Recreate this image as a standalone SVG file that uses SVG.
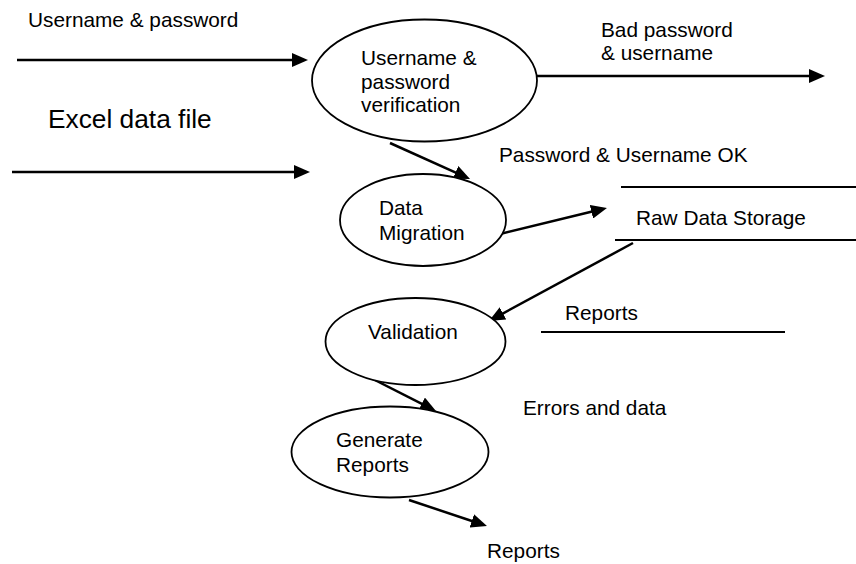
<svg xmlns="http://www.w3.org/2000/svg" width="856" height="564" viewBox="0 0 856 564">
<style>
text{font-family:"Liberation Sans",Arial,sans-serif;font-size:20.8px;fill:#000}
.big{font-size:26.3px}
.node ellipse{fill:#fff;stroke:#000;stroke-width:1.8}
.conn line{stroke:#000;stroke-width:2.5}
.store line{stroke:#000;stroke-width:1.8}
</style>
<defs>
<marker id="ah" viewBox="0 0 16 14" refX="4" refY="7" markerWidth="16" markerHeight="14" orient="auto" markerUnits="userSpaceOnUse">
<path d="M0,0 L16,7 L0,14 z" fill="#000"/>
</marker>
</defs>
<g id="connectors" class="conn">
<line x1="17" y1="60" x2="296" y2="60" marker-end="url(#ah)"/>
<line x1="12" y1="172" x2="298" y2="172" marker-end="url(#ah)"/>
<line x1="537" y1="76" x2="813" y2="76" marker-end="url(#ah)"/>
<line x1="390" y1="143" x2="459.1" y2="174.1" marker-end="url(#ah)"/>
<line x1="500" y1="234" x2="595.3" y2="210.8" marker-end="url(#ah)"/>
<line x1="633" y1="243" x2="499.5" y2="315.3" marker-end="url(#ah)"/>
<line x1="365" y1="375" x2="425.3" y2="405.6" marker-end="url(#ah)"/>
<line x1="409" y1="500" x2="475.6" y2="522.2" marker-end="url(#ah)"/>
</g>
<g id="labels">
<text x="28" y="26.5">Username &amp; password</text>
<text class="big" x="48" y="128">Excel data file</text>
<text x="601" y="36.5">Bad password</text>
<text x="601" y="60">&amp; username</text>
<text x="499" y="161.5">Password &amp; Username OK</text>
<text x="523" y="415">Errors and data</text>
<text x="487" y="558">Reports</text>
</g>
<g id="verify" class="node">
<ellipse cx="424.5" cy="80.5" rx="112.5" ry="61"/>
<text x="361" y="65">Username &amp;</text>
<text x="361" y="88.5">password</text>
<text x="361" y="112">verification</text>
</g>
<g id="migration" class="node">
<ellipse cx="423" cy="220" rx="83" ry="46"/>
<text x="379" y="215">Data</text>
<text x="379" y="240">Migration</text>
</g>
<g id="rawstore" class="store">
<line x1="621" y1="187" x2="856" y2="187"/>
<line x1="615" y1="240" x2="856" y2="240"/>
<text x="636" y="225">Raw Data Storage</text>
</g>
<g id="reportsstore" class="store">
<line x1="541" y1="332" x2="785" y2="332"/>
<text x="565" y="320">Reports</text>
</g>
<g id="validation" class="node">
<ellipse cx="415.5" cy="341.5" rx="90" ry="43.5"/>
<text x="368" y="339">Validation</text>
</g>
<g id="generate" class="node">
<ellipse cx="390" cy="452" rx="98.5" ry="45.5"/>
<text x="336" y="447">Generate</text>
<text x="336" y="471.5">Reports</text>
</g>
</svg>
